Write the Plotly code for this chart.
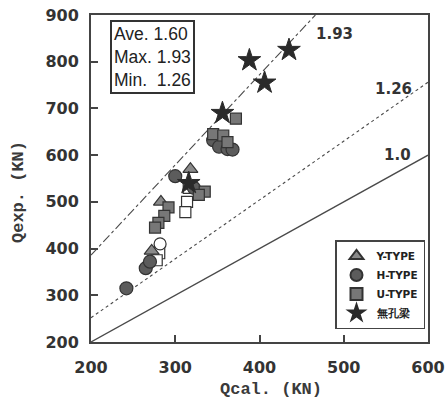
import plotly.graph_objects as go

# Calculated vs. experimental shear capacity of perforated beams
# Y-TYPE openings (triangles)
y_qcal = [318, 283, 272]
y_qexp = [570, 500, 395]
# H-TYPE openings (circles)
h_qcal = [242, 265, 270, 300, 322, 345, 352, 362, 368]
h_qexp = [315, 358, 372, 555, 530, 632, 618, 613, 612]
h_open_qcal = [282]
h_open_qexp = [410]
# U-TYPE openings (squares)
u_qcal = [372, 345, 357, 362, 335, 328, 292, 287, 280, 276]
u_qexp = [678, 645, 642, 628, 522, 515, 488, 470, 455, 445]
u_open_qcal = [316, 314, 312, 281, 278]
u_open_qexp = [530, 500, 478, 390, 375]
# Beams without openings (stars)
s_qcal = [435, 388, 406, 356, 316]
s_qexp = [825, 803, 755, 690, 540]

# Reference ratios Qexp / Qcal
ratios = [1.0, 1.26, 1.93]
ratio_labels = ["1.0", "1.26", "1.93"]
ratio_dash = ["solid", "dot", "dashdot"]
stats_text = ["Ave.\u00a01.60", "Max.\u00a01.93", "Min.\u00a0\u00a01.26"]

X_MIN, X_MAX = 200, 600
Y_MIN, Y_MAX = 200, 900

fig = go.Figure()

for k, dash in zip(ratios, ratio_dash):
    x_end = min(X_MAX, Y_MAX / k)
    fig.add_trace(go.Scatter(
        x=[X_MIN, x_end], y=[k * X_MIN, k * x_end], mode="lines",
        line=dict(color="#4a4a4a", width=1.3 if dash == "solid" else 1.1, dash=dash),
        showlegend=False, hoverinfo="skip"))

lbl_font = dict(family="DejaVu Sans", size=10.5, color="#222", weight="bold")

fig.add_trace(go.Scatter(
    x=u_open_qcal, y=u_open_qexp, mode="markers", showlegend=False,
    marker=dict(symbol="square", size=11, color="white", line=dict(color="#333", width=1.2))))
fig.add_trace(go.Scatter(
    x=h_open_qcal, y=h_open_qexp, mode="markers", showlegend=False,
    marker=dict(symbol="circle", size=12, color="white", line=dict(color="#333", width=1.2))))
fig.add_trace(go.Scatter(
    x=y_qcal, y=y_qexp, mode="markers", name="Y-TYPE",
    marker=dict(symbol="triangle-up", size=13, color="#8a8a8a", line=dict(color="#333", width=1.2))))
fig.add_trace(go.Scatter(
    x=h_qcal, y=h_qexp, mode="markers", name="H-TYPE",
    marker=dict(symbol="circle", size=13, color="#5c5c5c", line=dict(color="#333", width=1.2))))
fig.add_trace(go.Scatter(
    x=u_qcal, y=u_qexp, mode="markers", name="U-TYPE",
    marker=dict(symbol="square", size=11, color="#777777", line=dict(color="#333", width=1.2))))
fig.add_trace(go.Scatter(
    x=s_qcal, y=s_qexp, mode="markers", name="無孔梁",
    marker=dict(symbol="star", size=17, color="#2a2a2a", line=dict(color="#2a2a2a", width=1))))

L, R, T, B = 91, 428, 15, 342
W, H = 445, 402


def px_to_paper(px, py):
    return (px - L) / (R - L), (B - py) / (B - T)


# ratio labels near the right end of each line
label_pos = {"1.93": (334, 34), "1.26": (393, 89), "1.0": (397, 155)}
for txt in ratio_labels:
    xp, yp = px_to_paper(*label_pos[txt])
    fig.add_annotation(x=xp, y=yp, xref="paper", yref="paper", text=txt, showarrow=False,
                       xanchor="center", yanchor="middle",
                       font=dict(family="DejaVu Sans", size=15, color="#333", weight="bold"))

xp, yp = px_to_paper(110, 20)
fig.add_annotation(x=xp, y=yp, xref="paper", yref="paper", xanchor="left", yanchor="top",
                   text="<br>".join(stats_text), align="left", showarrow=False,
                   font=dict(family="Liberation Sans", size=17.5, color="#222"),
                   bordercolor="#333", borderwidth=2, borderpad=2, bgcolor="white")

# axis titles
title_font = dict(family="Liberation Mono", size=17, color="#3a3a3a", weight="bold")
xp, yp = px_to_paper(271, 389)
fig.add_annotation(x=xp, y=yp, xref="paper", yref="paper", text="Qcal.\u00a0(KN)", showarrow=False,
                   xanchor="center", yanchor="middle", font=title_font)
xp, yp = px_to_paper(18, 192)
fig.add_annotation(x=xp, y=yp, xref="paper", yref="paper", text="Qexp.\u00a0(KN)", showarrow=False,
                   xanchor="center", yanchor="middle", textangle=-90, font=title_font)

tick_font = dict(family="DejaVu Sans", size=16, color="#333", weight="bold")
axis_common = dict(showgrid=False, zeroline=False, showline=True, linecolor="#444", linewidth=2,
                   mirror=True, ticks="inside", ticklen=7, tickwidth=1.5, tickcolor="#444",
                   tickfont=tick_font, automargin=False)

fig.update_xaxes(range=[X_MIN, X_MAX], tickvals=[200, 300, 400, 500, 600],
                 ticklabelstandoff=10, **axis_common)
fig.update_yaxes(range=[Y_MIN, Y_MAX], tickvals=list(range(200, 901, 100)),
                 ticklabelstandoff=7, **axis_common)

lx, ly = px_to_paper(335, 240)
fig.update_layout(
    width=W, height=H, margin=dict(l=L, r=W - R, t=T, b=H - B, autoexpand=False),
    paper_bgcolor="white", plot_bgcolor="white",
    legend=dict(x=lx, y=ly, xanchor="left", yanchor="top", bordercolor="#444", borderwidth=1.5,
                bgcolor="white", font=lbl_font, itemsizing="constant", tracegroupgap=0,
                itemwidth=30),
)

fig.write_html("out.html")
